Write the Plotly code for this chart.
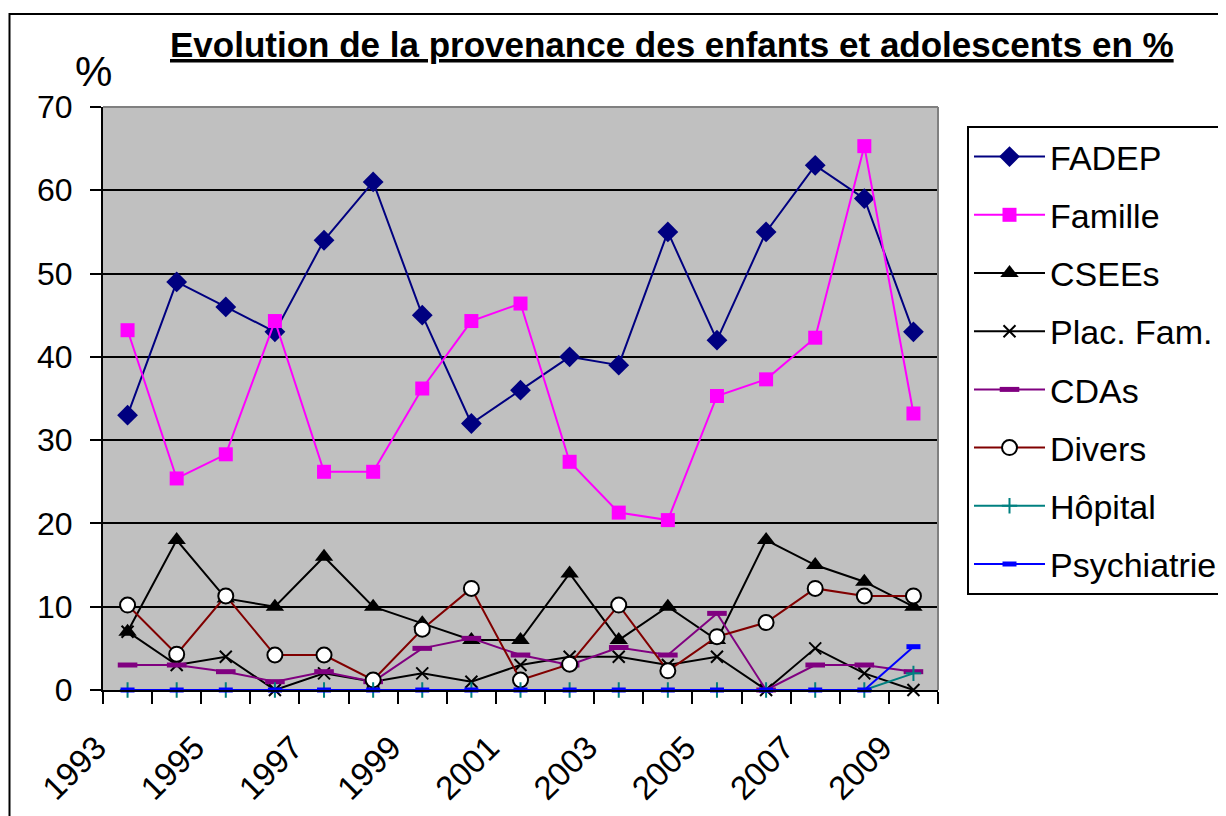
import plotly.graph_objects as go

years = list(range(1993, 2010))
tick_years = [1993, 1995, 1997, 1999, 2001, 2003, 2005, 2007, 2009]

fadep = [33, 49, 46, 43, 54, 61, 45, 32, 36, 40, 39, 55, 42, 55, 63, 59, 43]
famille = [43.2, 25.4, 28.3, 44.3, 26.2, 26.2, 36.2, 44.3, 46.4, 27.4, 21.3, 20.4, 35.3, 37.3, 42.3, 65.3, 33.2]
csees = [7, 18, 11, 10, 16, 10, 8, 6, 6, 14, 6, 10, 6, 18, 15, 13, 10]
plac_fam = [7, 3, 4, 0, 2, 1, 2, 1, 3, 4, 4, 3, 4, 0, 5, 2, 0]
cdas = [3, 3, 2.2, 1, 2.2, 1, 5, 6.2, 4.2, 3, 5.1, 4.2, 9.2, 0, 3, 3, 2.2]
divers = [10.2, 4.3, 11.3, 4.2, 4.2, 1.2, 7.3, 12.2, 1.2, 3.1, 10.2, 2.3, 6.4, 8.1, 12.2, 11.3, 11.3]
hopital = [0, 0, 0, 0, 0, 0, 0, 0, 0, 0, 0, 0, 0, 0, 0, 0, 2]
psychiatrie = [0, 0, 0, 0, 0, 0, 0, 0, 0, 0, 0, 0, 0, 0, 0, 0, 5.2]

series = [
    ("FADEP", fadep, "#000080", dict(symbol="diamond", size=16, color="#000080")),
    ("Famille", famille, "#FF00FF", dict(symbol="square", size=14, color="#FF00FF")),
    ("CSEEs", csees, "#000000", dict(symbol="triangle-up", size=16, color="#000000")),
    ("Plac. Fam.", plac_fam, "#000000", dict(symbol="x-thin", size=12, color="#000000",
                                               line=dict(color="#000000", width=2))),
    ("CDAs", cdas, "#800080", dict(symbol="line-ew", size=14, color="#800080",
                                   line=dict(color="#800080", width=5))),
    ("Divers", divers, "#800000", dict(symbol="circle", size=15, color="#FFFFFF",
                                       line=dict(color="#000000", width=2))),
    ("Hôpital", hopital, "#008080", dict(symbol="cross-thin", size=11, color="#008080",
                                         line=dict(color="#008080", width=2))),
    ("Psychiatrie", psychiatrie, "#0000FF", dict(symbol="line-ew", size=10, color="#0000FF",
                                                 line=dict(color="#0000FF", width=5))),
]

fig = go.Figure()
for i, (name, vals, col, mk) in enumerate(series):
    fig.add_trace(go.Scatter(
        x=years, y=vals, name=name, mode="lines+markers",
        line=dict(color=col, width=2), marker=mk, cliponaxis=False,
        legendgroup=f"g{i}",
    ))

# screen coordinates of the plot area (page body adds an 8px offset)
OFF = 8
L, R, T, B = 103, 938, 107, 690
W, H = 1226 - OFF, 816 - OFF

def px(xp):
    return (xp - L) / (R - L)

def py(yp):
    return (B - yp) / (B - T)

fig.update_layout(
    width=W, height=H,
    margin=dict(l=L - OFF, r=W - (R - OFF), t=T - OFF, b=H - (B - OFF), autoexpand=False),
    paper_bgcolor="white",
    plot_bgcolor="#C0C0C0",
    font=dict(family="Liberation Sans, Arial, sans-serif", color="black"),
    showlegend=True,
    legend=dict(
        x=px(967), y=py(126), xanchor="left", yanchor="top",
        font=dict(size=34, family="Liberation Sans, Arial, sans-serif"),
        bordercolor="black", borderwidth=2, bgcolor="white",
        itemwidth=71, tracegroupgap=11, traceorder="grouped",
    ),
    xaxis=dict(
        range=[1992.5, 2009.5], tickmode="array", tickvals=tick_years,
        ticktext=[str(y) for y in tick_years], tickangle=-45,
        tickfont=dict(size=33), ticks="", showgrid=False, zeroline=False,
        showline=True, linecolor="black", linewidth=2,
        ticklabelshift=-31, ticklabelstandoff=23,
        minor=dict(ticks="outside", ticklen=12, tickwidth=2, tickcolor="black",
                   tick0=1992.5, dtick=1, showgrid=False),
    ),
    yaxis=dict(
        range=[0, 70], dtick=10, tickfont=dict(size=32), ticks="outside",
        ticklen=11, tickwidth=2, tickcolor="black",
        showgrid=True, gridcolor="black", gridwidth=2, zeroline=False,
        showline=True, linecolor="black", linewidth=2,
        ticklabelstandoff=11,
    ),
    shapes=[
        dict(type="line", xref="paper", yref="paper", x0=0, x1=1, y0=1, y1=1,
             line=dict(color="#808080", width=2), layer="above"),
        dict(type="line", xref="paper", yref="paper", x0=1, x1=1, y0=0, y1=1,
             line=dict(color="#808080", width=2), layer="above"),
        dict(type="rect", xref="paper", yref="paper", x0=px(9.5), x1=px(1300),
             y0=py(900), y1=py(14), line=dict(color="black", width=2), layer="below"),
    ],
    annotations=[
        dict(text="<b><u>Evolution de la provenance des enfants et adolescents en %</u></b>",
             xref="paper", yref="paper", x=px(672), y=py(45), xanchor="center", yanchor="middle",
             showarrow=False,
             font=dict(size=35, family="Liberation Sans, Arial")),
        dict(text="%", xref="paper", yref="paper", x=px(93), y=py(71),
             xanchor="center", yanchor="middle", showarrow=False,
             font=dict(size=42, family="Liberation Sans, Arial")),
    ],
)

fig.write_html("out.html")
